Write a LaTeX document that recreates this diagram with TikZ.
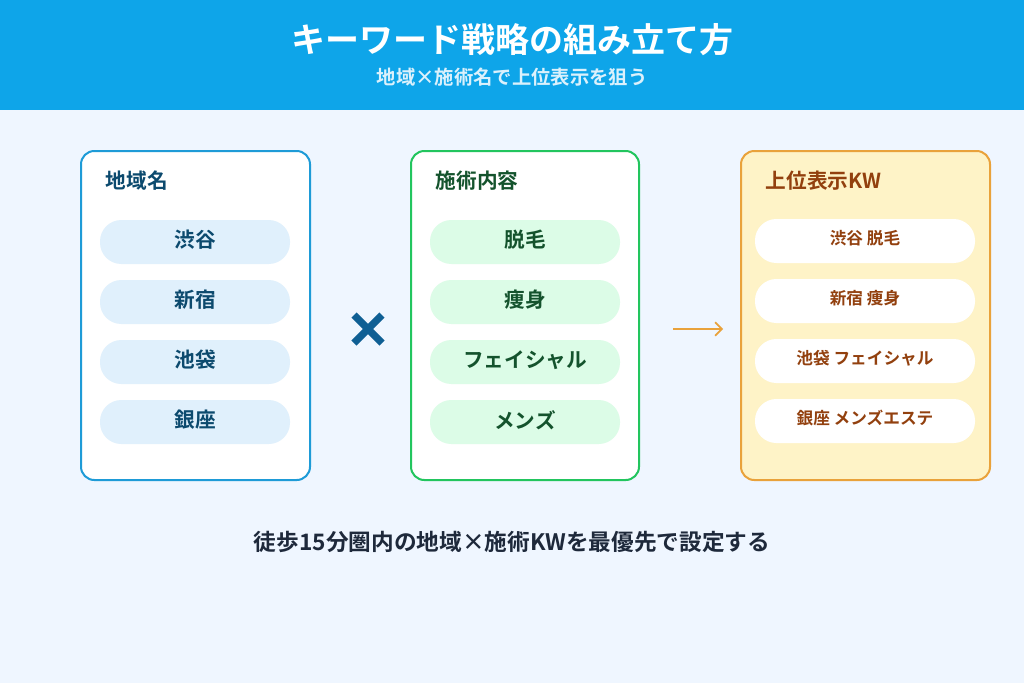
\documentclass[tikz,border=0pt]{standalone}
\usepackage{fontspec}
\setmainfont{Noto Sans CJK JP}[BoldFont={Noto Sans CJK JP Bold}]
\usetikzlibrary{arrows.meta}
\definecolor{hdr}{HTML}{0EA5E9}
\definecolor{bg}{HTML}{EFF6FF}
\definecolor{bblue}{HTML}{1E9BD7}
\definecolor{tblue}{HTML}{0C4A6E}
\definecolor{xblue}{HTML}{0F5F94}
\definecolor{pblue}{HTML}{E0F0FC}
\definecolor{bgreen}{HTML}{22C55E}
\definecolor{tgreen}{HTML}{14532D}
\definecolor{pgreen}{HTML}{DCFCE7}
\definecolor{borange}{HTML}{E9A23B}
\definecolor{porange}{HTML}{FEF3C7}
\definecolor{tbrown}{HTML}{92400E}
\definecolor{navy}{HTML}{1E293B}
\begin{document}
\begin{tikzpicture}[x=0.75pt,y=-0.75pt,
  box/.style={rounded corners=10pt,line width=1.5pt},
  pill/.style={rounded corners=16pt},
  ptext/.style={font=\bfseries\fontsize{15.5}{18}\selectfont},
  ktext/.style={font=\bfseries\fontsize{12.5}{15}\selectfont,text=tbrown},
  ttl/.style={anchor=west,font=\bfseries\fontsize{15.5}{18}\selectfont}]
\useasboundingbox (0,0) rectangle (1024,683);
\fill[bg] (0,0) rectangle (1024,683);
\fill[hdr] (0,0) rectangle (1024,110);
\node[text=white,font=\bfseries\fontsize{25.5}{30}\selectfont] (title) at (512,40) {キーワード戦略の組み立て方};
\node[text=white!85!hdr,font=\bfseries\fontsize{14.5}{17}\selectfont] (sub) at (512,77) {地域×施術名で上位表示を狙う};
% box 1
\draw[box,draw=bblue,fill=white] (81,151) rectangle (310,480);
\node[ttl,text=tblue] (t1) at (101,181) {地域名};
\foreach \s/\y [count=\i] in {渋谷/242,新宿/302,池袋/362,銀座/422}{
  \fill[pill,pblue] (100,\y-22) rectangle (290,\y+22);
  \node[ptext,text=tblue] (a\i) at (195,\y-2) {\s};}
% box 2
\draw[box,draw=bgreen,fill=white] (411,151) rectangle (639,480);
\node[ttl,text=tgreen] (t2) at (431,181) {施術内容};
\foreach \s/\y [count=\i] in {脱毛/242,痩身/302,フェイシャル/362,メンズ/422}{
  \fill[pill,pgreen] (430,\y-22) rectangle (620,\y+22);
  \node[ptext,text=tgreen] (b\i) at (525,\y-2) {\s};}
% times
\coordinate (x) at (368,329);
\draw[xblue,line width=5.5pt] ([shift={(-14,-14)}]x) -- ([shift={(14,14)}]x)
  ([shift={(-14,14)}]x) -- ([shift={(14,-14)}]x);
% arrow
\coordinate (p1) at (673,329);
\coordinate (p2) at (723,329);
\draw[borange,line width=1.3pt,-{Straight Barb[length=5pt,width=10pt]}] (p1) -- (p2);
% box 3
\draw[box,draw=borange,fill=porange] (741,151) rectangle (990,480);
\node[ttl,text=tbrown] (t3) at (761,181) {上位表示KW};
\foreach \s/\y [count=\i] in {渋谷 脱毛/240,新宿 痩身/300,池袋 フェイシャル/360,銀座 メンズエステ/420}{
  \fill[pill,white] (755,\y-21) rectangle (975,\y+23);
  \node[ktext] (c\i) at (865,\y-2) {\s};}
\node[text=navy,font=\bfseries\fontsize{17}{20}\selectfont] (foot) at (512,542) {徒歩15分圏内の地域×施術KWを最優先で設定する};
\end{tikzpicture}
\end{document}
